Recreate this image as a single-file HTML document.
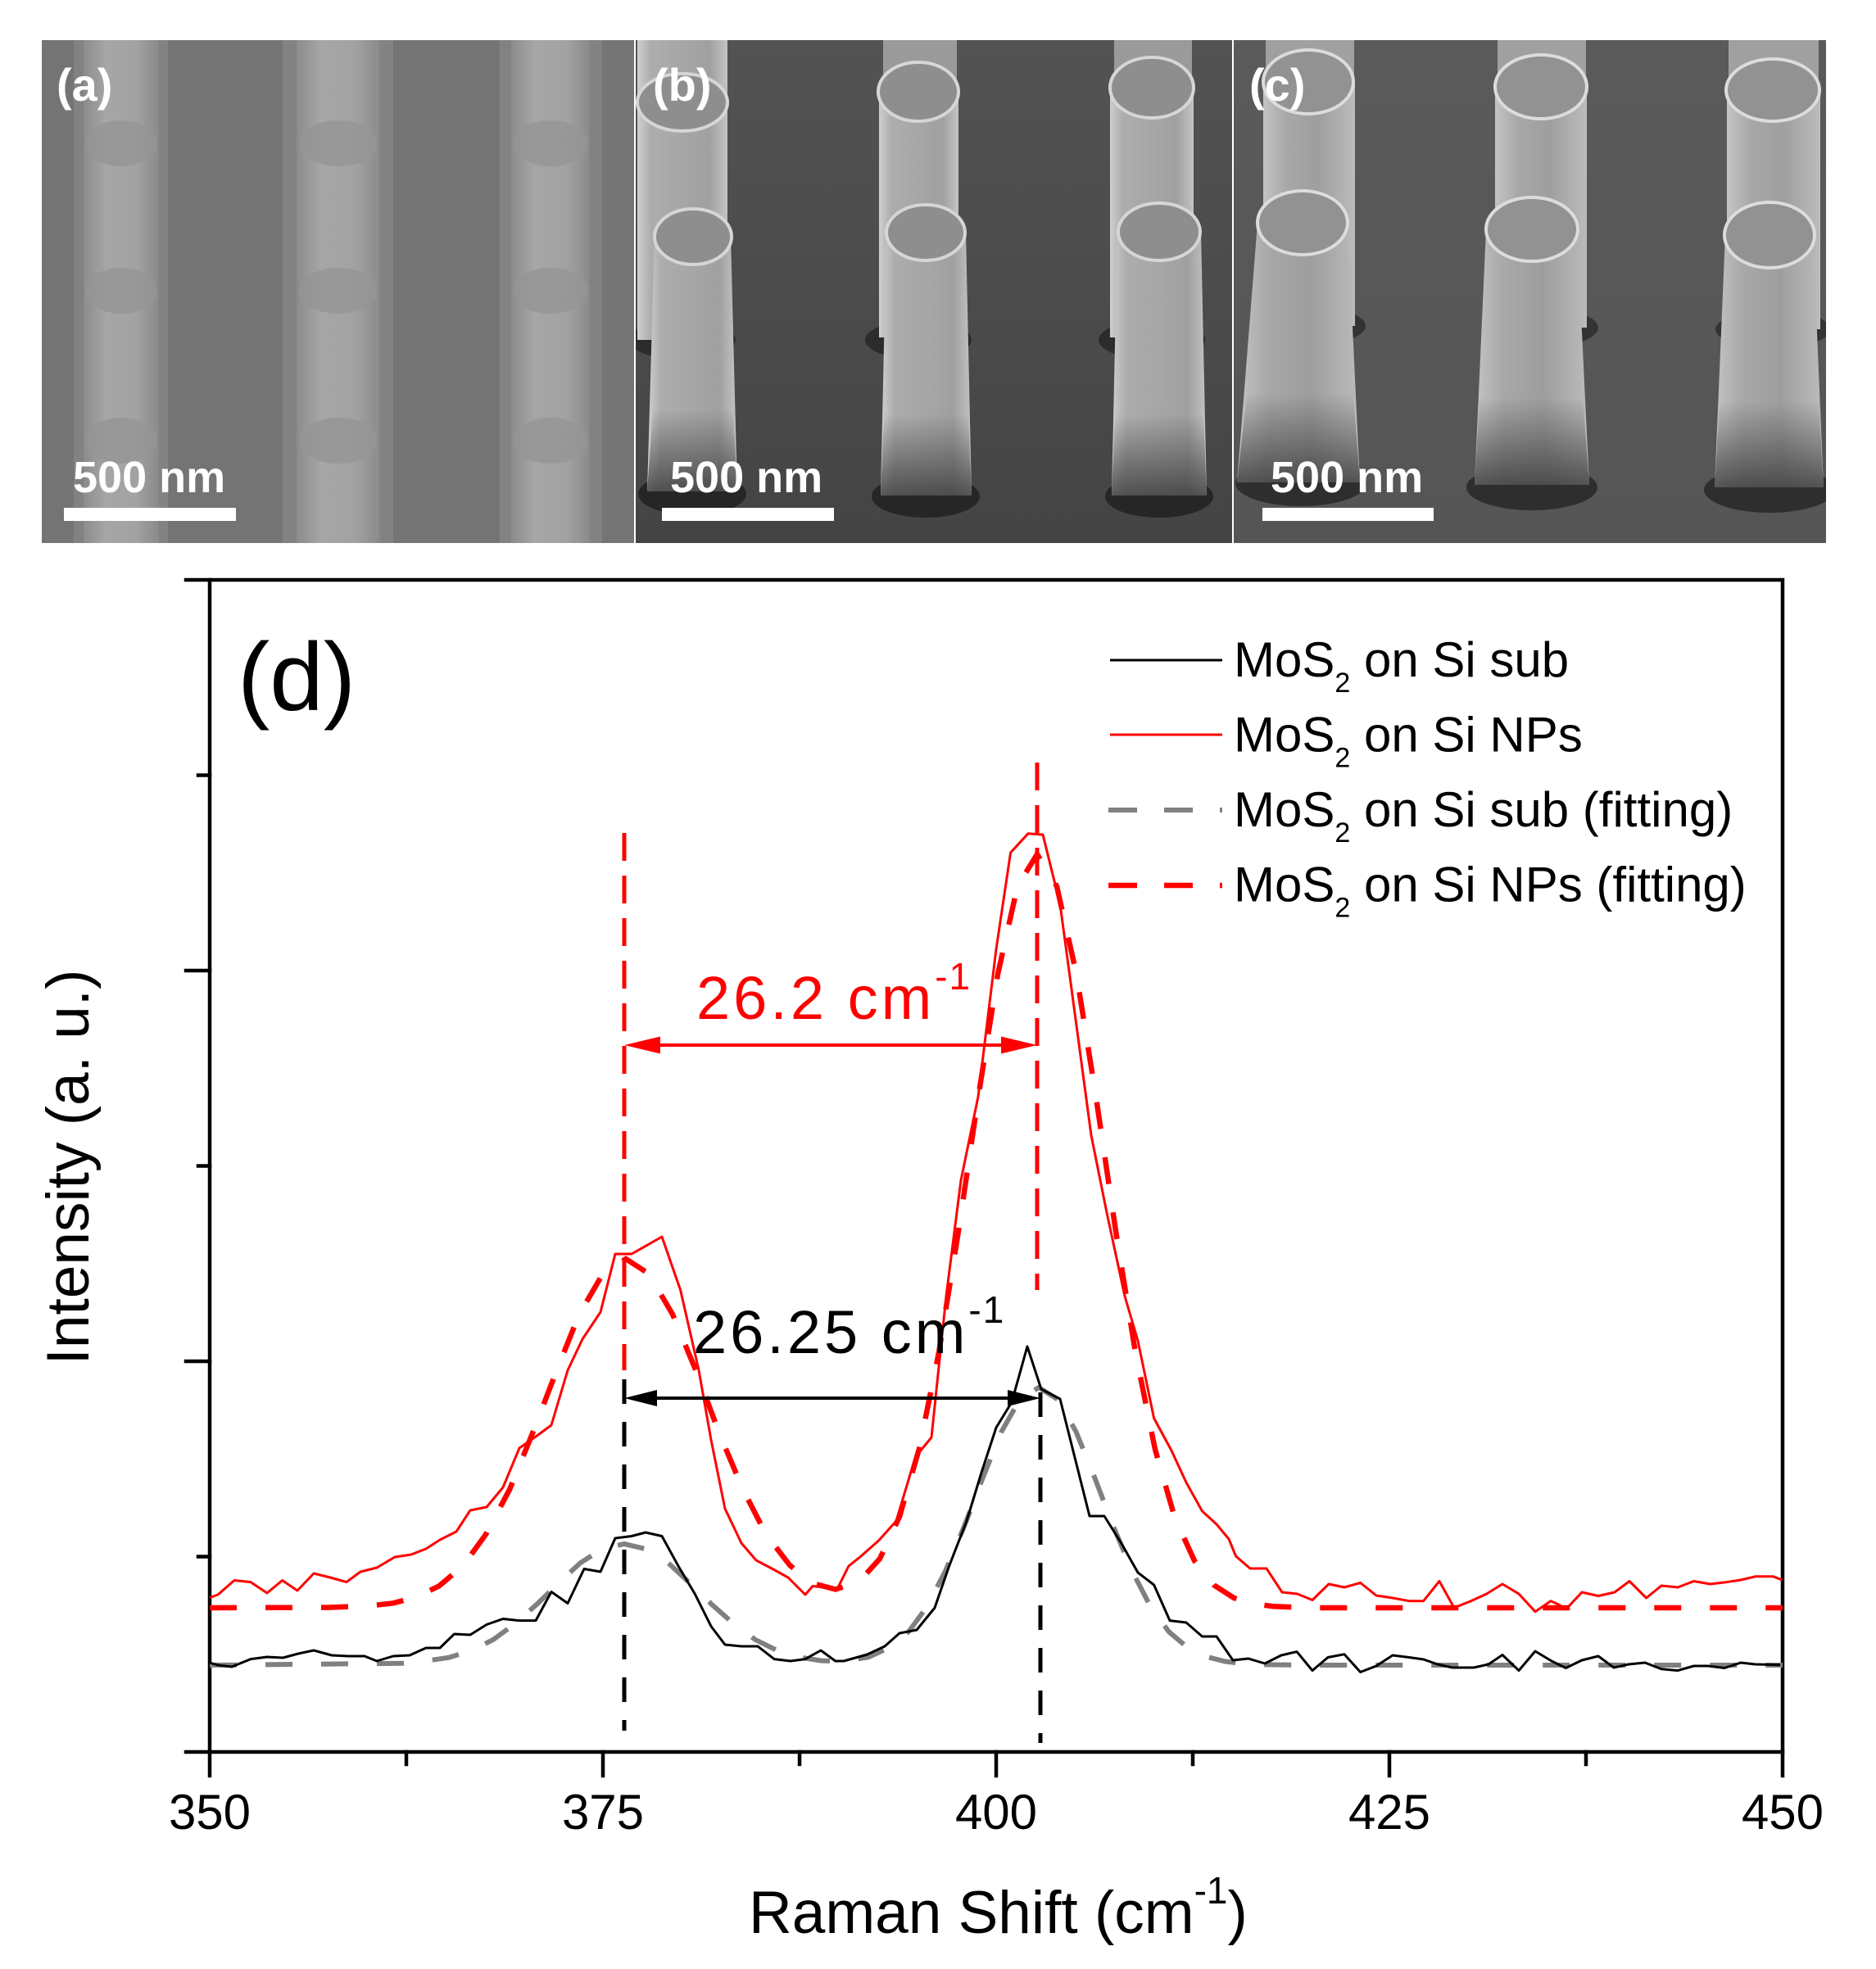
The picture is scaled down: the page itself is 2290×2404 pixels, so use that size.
<!DOCTYPE html>
<html><head><meta charset="utf-8"><style>
html,body{margin:0;padding:0;background:#fff;}
svg{display:block;}
text{font-family:"Liberation Sans",Arial,sans-serif;}
</style></head><body>
<svg width="2290" height="2404" viewBox="0 0 2290 2404" xmlns="http://www.w3.org/2000/svg">
<defs>
<clipPath id="ca"><rect x="51" y="49" width="723" height="614"/></clipPath>
<clipPath id="cb"><rect x="776" y="49" width="728" height="614"/></clipPath>
<clipPath id="cc"><rect x="1506" y="49" width="723" height="614"/></clipPath>
<linearGradient id="pa" x1="0" x2="1" y1="0" y2="0"><stop offset="0" stop-color="#8c8c8c"/><stop offset="0.3" stop-color="#a6a6a6"/><stop offset="0.7" stop-color="#a2a2a2"/><stop offset="1" stop-color="#8a8a8a"/></linearGradient>
<linearGradient id="pb" x1="0" x2="1" y1="0" y2="0"><stop offset="0" stop-color="#cfcfcf"/><stop offset="0.15" stop-color="#adadad"/><stop offset="0.8" stop-color="#a0a0a0"/><stop offset="1" stop-color="#c4c4c4"/></linearGradient>
<linearGradient id="pc" x1="0" x2="1" y1="0" y2="0"><stop offset="0" stop-color="#c4c4c4"/><stop offset="0.25" stop-color="#a8a8a8"/><stop offset="0.6" stop-color="#9e9e9e"/><stop offset="1" stop-color="#bcbcbc"/></linearGradient>
<linearGradient id="dk" x1="0" x2="0" y1="0" y2="1"><stop offset="0" stop-color="#303030" stop-opacity="0"/><stop offset="1" stop-color="#303030" stop-opacity="0.75"/></linearGradient>
<linearGradient id="bgb" x1="0" x2="0" y1="0" y2="1"><stop offset="0" stop-color="#535353"/><stop offset="1" stop-color="#444"/></linearGradient>
<linearGradient id="bgc" x1="0" x2="0" y1="0" y2="1"><stop offset="0" stop-color="#5a5a5a"/><stop offset="1" stop-color="#555"/></linearGradient>
</defs>

<!-- Panel (a) -->
<g clip-path="url(#ca)">
<rect x="51" y="49" width="723" height="614" fill="#747474"/>
<rect x="90" y="49" width="115" height="614" fill="#828282"/>
<rect x="345" y="49" width="135" height="614" fill="#828282"/>
<rect x="610" y="49" width="125" height="614" fill="#828282"/>
<rect x="102" y="49" width="92" height="614" fill="url(#pa)"/>
<rect x="362" y="49" width="102" height="614" fill="url(#pa)"/>
<rect x="624" y="49" width="96" height="614" fill="url(#pa)"/>
<g fill="#959595" opacity="0.8">
<ellipse cx="148" cy="175" rx="44" ry="28"/><ellipse cx="148" cy="355" rx="44" ry="28"/><ellipse cx="148" cy="538" rx="44" ry="28"/>
<ellipse cx="413" cy="175" rx="48" ry="28"/><ellipse cx="413" cy="355" rx="48" ry="28"/><ellipse cx="413" cy="538" rx="48" ry="28"/>
<ellipse cx="672" cy="175" rx="46" ry="28"/><ellipse cx="672" cy="355" rx="46" ry="28"/><ellipse cx="672" cy="538" rx="46" ry="28"/>
</g>
</g>

<!-- Panel (b) -->
<g clip-path="url(#cb)">
<rect x="776" y="49" width="728" height="614" fill="url(#bgb)"/>
<rect x="1078" y="40" width="90" height="70" fill="#9a9a9a"/>
<rect x="1360" y="40" width="95" height="70" fill="#9a9a9a"/>
<ellipse cx="833" cy="415" rx="65" ry="24" fill="#2c2c2c"/>
<ellipse cx="1121" cy="415" rx="65" ry="24" fill="#2c2c2c"/>
<ellipse cx="1406" cy="415" rx="65" ry="24" fill="#2c2c2c"/>
<rect x="778" y="40" width="110" height="375" fill="url(#pb)"/>
<ellipse cx="833" cy="125" rx="55" ry="35" fill="#8e8e8e" stroke="#d6d6d6" stroke-width="4"/>
<rect x="1073" y="112" width="97" height="300" fill="url(#pb)"/>
<ellipse cx="1121" cy="112" rx="49" ry="36" fill="#8e8e8e" stroke="#d6d6d6" stroke-width="4"/>
<rect x="1355" y="107" width="102" height="305" fill="url(#pb)"/>
<ellipse cx="1406" cy="107" rx="51" ry="37" fill="#8e8e8e" stroke="#d6d6d6" stroke-width="4"/>
<ellipse cx="845" cy="603" rx="66" ry="26" fill="#262626"/>
<ellipse cx="1130" cy="606" rx="66" ry="26" fill="#262626"/>
<ellipse cx="1415" cy="606" rx="66" ry="26" fill="#262626"/>
<path d="M799 289 L892 289 L900 600 L790 600 Z" fill="url(#pb)"/>
<path d="M797 500 L895 500 L900 600 L790 600 Z" fill="url(#dk)"/>
<ellipse cx="846" cy="289" rx="47" ry="34" fill="#8e8e8e" stroke="#d6d6d6" stroke-width="4"/>
<path d="M1082 284 L1179 284 L1186 605 L1075 605 Z" fill="url(#pb)"/>
<path d="M1079 505 L1182 505 L1186 605 L1075 605 Z" fill="url(#dk)"/>
<ellipse cx="1130" cy="284" rx="48" ry="34" fill="#8e8e8e" stroke="#d6d6d6" stroke-width="4"/>
<path d="M1364 283 L1466 283 L1473 605 L1357 605 Z" fill="url(#pb)"/>
<path d="M1361 505 L1469 505 L1473 605 L1357 605 Z" fill="url(#dk)"/>
<ellipse cx="1415" cy="283" rx="50" ry="35" fill="#8e8e8e" stroke="#d6d6d6" stroke-width="4"/>
</g>

<!-- Panel (c) -->
<g clip-path="url(#cc)">
<rect x="1506" y="49" width="723" height="614" fill="url(#bgc)"/>
<rect x="1545" y="40" width="108" height="60" fill="#a0a0a0"/>
<rect x="1828" y="40" width="108" height="66" fill="#a0a0a0"/>
<rect x="2110" y="40" width="110" height="70" fill="#a0a0a0"/>
<ellipse cx="1597" cy="398" rx="70" ry="24" fill="#333"/>
<ellipse cx="1881" cy="400" rx="70" ry="24" fill="#333"/>
<ellipse cx="2164" cy="402" rx="70" ry="24" fill="#333"/>
<rect x="1542" y="100" width="112" height="298" fill="url(#pc)"/>
<ellipse cx="1597" cy="100" rx="55" ry="39" fill="#929292" stroke="#dcdcdc" stroke-width="4"/>
<rect x="1825" y="106" width="112" height="294" fill="url(#pc)"/>
<ellipse cx="1881" cy="106" rx="56" ry="39" fill="#929292" stroke="#dcdcdc" stroke-width="4"/>
<rect x="2108" y="110" width="114" height="292" fill="url(#pc)"/>
<ellipse cx="2164" cy="110" rx="57" ry="38" fill="#929292" stroke="#dcdcdc" stroke-width="4"/>
<ellipse cx="1588" cy="590" rx="80" ry="28" fill="#2e2e2e"/>
<ellipse cx="1870" cy="595" rx="80" ry="28" fill="#2e2e2e"/>
<ellipse cx="2160" cy="598" rx="80" ry="28" fill="#2e2e2e"/>
<path d="M1535 272 L1645 272 L1660 589 L1510 589 Z" fill="url(#pc)"/>
<path d="M1522 480 L1652 480 L1660 589 L1510 589 Z" fill="url(#dk)"/>
<ellipse cx="1590" cy="272" rx="55" ry="39" fill="#929292" stroke="#dcdcdc" stroke-width="4"/>
<path d="M1814 280 L1925 280 L1940 592 L1800 592 Z" fill="url(#pc)"/>
<path d="M1806 485 L1932 485 L1940 592 L1800 592 Z" fill="url(#dk)"/>
<ellipse cx="1870" cy="280" rx="56" ry="39" fill="#929292" stroke="#dcdcdc" stroke-width="4"/>
<path d="M2106 287 L2213 287 L2226 595 L2093 595 Z" fill="url(#pc)"/>
<path d="M2099 490 L2220 490 L2226 595 L2093 595 Z" fill="url(#dk)"/>
<ellipse cx="2160" cy="287" rx="55" ry="40" fill="#929292" stroke="#dcdcdc" stroke-width="4"/>
</g>

<!-- panel labels & scale bars -->
<g fill="#fff" font-weight="bold">
<text x="69" y="123" font-size="56">(a)</text>
<text x="797" y="123" font-size="56">(b)</text>
<text x="1525" y="123" font-size="56">(c)</text>
<text x="89" y="601" font-size="54">500 nm</text>
<text x="818" y="601" font-size="54">500 nm</text>
<text x="1551" y="601" font-size="54">500 nm</text>
<rect x="78" y="620" width="210" height="16"/>
<rect x="808" y="620" width="210" height="16"/>
<rect x="1541" y="620" width="209" height="16"/>
</g>

<!-- Plot frame -->
<g stroke="#000" stroke-width="4.5" fill="none" stroke-linecap="square">
<path d="M227 708 L2176 708 L2176 2139 L227 2139"/>
<path d="M256 708 L256 2139"/>
<path d="M227 1185 L256 1185 M227 1662 L256 1662 M242 946.5 L256 946.5 M242 1423.5 L256 1423.5 M242 1900.5 L256 1900.5"/>
<path d="M256 2139 L256 2168 M736 2139 L736 2168 M1216 2139 L1216 2168 M1696 2139 L1696 2168 M2176 2139 L2176 2168"/>
<path d="M496 2139 L496 2154 M976 2139 L976 2154 M1456 2139 L1456 2154 M1936 2139 L1936 2154"/>
</g>
<g font-size="60" text-anchor="middle" fill="#000">
<text x="256" y="2233">350</text>
<text x="736" y="2233">375</text>
<text x="1216" y="2233">400</text>
<text x="1696" y="2233">425</text>
<text x="2176" y="2233">450</text>
</g>
<text x="914" y="2360" font-size="73" fill="#000">Raman Shift (cm<tspan font-size="46" dy="-36">-1</tspan><tspan dy="36">)</tspan></text>
<text transform="translate(108,1425) rotate(-90)" text-anchor="middle" font-size="73" fill="#000">Intensity (a. u.)</text>
<text x="290" y="867" font-size="118" fill="#000">(d)</text>

<!-- Fits -->
<polyline fill="none" stroke="#808080" stroke-width="6" stroke-dasharray="33 35" points="256,2033 500,2030.7 548,2023.75 575,2015.3 602,2001.9 628,1982.9 655,1959 682,1932.8 708,1908.5 735,1891.3 762,1885 789,1891.3 816,1908.5 842,1932.8 869,1959 896,1982.9 922,2001.9 949,2015.3 976,2023.5 1003,2027.65 1029,2028.25 1060,2023.3 1086,2011.5 1109,1992.4 1131.5,1961.7 1154,1918.2 1177,1863.5 1200,1803.5 1222.5,1747.9 1245,1708.4 1268,1694 1291,1708.4 1313.5,1747.9 1336,1803.5 1359,1863.5 1382,1918.2 1404.5,1961.7 1427,1992.4 1450,2011.8 1473,2022.8 1495.5,2028.5 1518,2031.2 1541,2032.3 1600,2033 2176,2033"/>
<polyline fill="none" stroke="#ff0000" stroke-width="6.5" stroke-dasharray="33 35" points="256,1963 400,1962.6 450,1960.7 480,1957.3 507,1950.2 536,1936.4 565,1912 593,1873.4 622,1818.7 650,1750 679,1674.6 707,1604.7 736,1555.1 764,1537 792,1555.1 821,1604.7 850,1674.6 878,1750 907,1818.7 935,1873.2 964,1911 992,1933.1 1020,1940.5 1049,1930.7 1074,1903 1098,1851.7 1122,1769 1146,1651.4 1170,1503 1194,1340.2 1218,1189.3 1242,1082 1266,1043 1290,1082 1314,1189.3 1338,1340.2 1362,1503 1386,1651.4 1410,1769.5 1434,1852.8 1458,1905.5 1482,1935.4 1506,1950.9 1530,1958.1 1554,1961.2 1600,1963 2176,1963"/>

<!-- Data -->
<polyline fill="none" stroke="#000" stroke-width="3" stroke-linejoin="round" points="256,2030 266,2033 283,2035 306,2025.6 326,2023 345.5,2024 364,2019 383,2015 405,2021 425,2022 445,2022 460,2028 480,2022 500,2021 520,2012 537,2012 554.5,1995 574,1996 594,1983.5 614,1976.5 634,1978.6 654,1978.6 673,1943.5 693,1957.5 713,1915.5 733,1919 751,1878 771,1875.5 788,1871 808,1875.5 828,1912 848,1945.6 868,1985.6 885,2008 905,2010 925,2010 945,2025.6 965,2028 983,2025.6 1002,2015 1019.7,2028 1030,2028 1058.6,2020 1080,2010 1098,1994 1119,1990 1141,1963 1158.6,1912 1180,1857 1198,1798 1216,1743 1235,1712 1254,1644 1271,1696 1294,1708 1330,1851 1348,1851 1369,1884.5 1389,1920 1408.6,1935 1428,1978.6 1448,1981 1467.5,1998 1485,1998 1505,2027 1524,2025 1544,2031 1564,2021 1583,2016.6 1602,2039.6 1621,2023.5 1641,2019.7 1660.6,2041.5 1680,2034 1700,2021 1720,2023.5 1737.6,2026 1755,2032 1773,2036 1799,2036 1817,2032 1834,2020.5 1854,2039.6 1874,2016 1894,2028 1911.4,2036.5 1931,2027 1951,2022 1970,2036 1988,2032 2008,2030 2028,2037.7 2048,2039.6 2067.7,2034 2085,2034 2105,2036.5 2125,2030 2142.5,2032 2173,2032.7"/>
<polyline fill="none" stroke="#ff0000" stroke-width="3" stroke-linejoin="round" points="256,1950.6 266,1947 286,1929.5 306,1931.6 326,1945 344.6,1929.5 363,1942 383,1921 403,1926 423,1931.6 440,1919 460,1914 482,1901 502,1898 520,1891 537,1880 557,1870 574,1844 594,1840 614,1816 634,1768 654,1754 673,1740 693,1673 711,1635 733,1602 751,1531 771,1531 808,1510 830.6,1575 853,1673 868,1758 885,1842 905,1884 923,1905 943,1915.5 962,1926 983,1947 992,1936.5 1022,1940 1036,1912 1051,1900 1073,1880.5 1094,1857 1117.5,1778.6 1137,1755 1155,1582.5 1173,1441 1194,1339 1216,1159 1233.6,1041 1255,1017.7 1273,1019 1294,1104 1312,1237 1332,1386 1351,1480.5 1373,1582.5 1389,1637 1408.6,1731.5 1430,1771 1448,1810 1467.5,1845 1485,1861 1500,1879 1508.6,1900 1526,1915 1546,1915 1565,1944 1583.6,1946 1602,1953.5 1622,1934 1641,1938 1660.6,1932.5 1680,1948 1700,1951 1720,1954.7 1737.6,1954.7 1757,1930.5 1775,1963 1795,1955 1814.6,1946 1834,1934 1854,1946 1874,1967.7 1893,1954.7 1902.6,1959 1911.4,1965 1931,1944 1951,1948.5 1971,1944 1989,1930.5 2009.6,1951 2028,1936 2048,1938 2067.7,1930.5 2087.5,1934 2107,1931.7 2125,1929 2142.5,1924.8 2164.5,1924.8 2175.5,1929"/>

<!-- Annotation vertical dashed lines -->
<g fill="none" stroke-width="5">
<path d="M762 1017 L762 1673" stroke="#ff0000" stroke-dasharray="34 18"/>
<path d="M1266 931 L1266 1575" stroke="#ff0000" stroke-dasharray="34 18"/>
<path d="M762 1684 L762 2113" stroke="#000" stroke-dasharray="30 22"/>
<path d="M1270 1700 L1270 2128" stroke="#000" stroke-dasharray="30 22"/>
</g>
<!-- Arrows -->
<path d="M790 1276 L1240 1276" stroke="#ff0000" stroke-width="4"/>
<polygon points="762,1276 806,1265.5 806,1286.5" fill="#ff0000"/>
<polygon points="1266,1276 1222,1265.5 1222,1286.5" fill="#ff0000"/>
<path d="M790 1707 L1244 1707" stroke="#000" stroke-width="4"/>
<polygon points="762,1707 802,1697 802,1717" fill="#000"/>
<polygon points="1270,1707 1230,1697 1230,1717" fill="#000"/>

<text x="850" y="1244" font-size="74" fill="#ff0000" letter-spacing="4">26.2 cm<tspan font-size="46" dy="-36" letter-spacing="2">-1</tspan></text>
<text x="846" y="1652" font-size="74" fill="#000" letter-spacing="4">26.25 cm<tspan font-size="46" dy="-37" letter-spacing="2">-1</tspan></text>

<!-- Legend -->
<path d="M1355 806 L1492 806" stroke="#000" stroke-width="3"/>
<path d="M1355 897 L1492 897" stroke="#ff0000" stroke-width="3"/>
<path d="M1353 989 L1492 989" stroke="#808080" stroke-width="6" stroke-dasharray="35 33"/>
<path d="M1353 1081 L1492 1081" stroke="#ff0000" stroke-width="6.5" stroke-dasharray="35 33"/>
<g font-size="60" fill="#000">
<text x="1506" y="826">MoS<tspan font-size="34" dy="19">2</tspan><tspan dy="-19"> on Si sub</tspan></text>
<text x="1506" y="917.5">MoS<tspan font-size="34" dy="19">2</tspan><tspan dy="-19"> on Si NPs</tspan></text>
<text x="1506" y="1009">MoS<tspan font-size="34" dy="19">2</tspan><tspan dy="-19"> on Si sub (fitting)</tspan></text>
<text x="1506" y="1100.5">MoS<tspan font-size="34" dy="19">2</tspan><tspan dy="-19"> on Si NPs (fitting)</tspan></text>
</g>
</svg>
</body></html>
